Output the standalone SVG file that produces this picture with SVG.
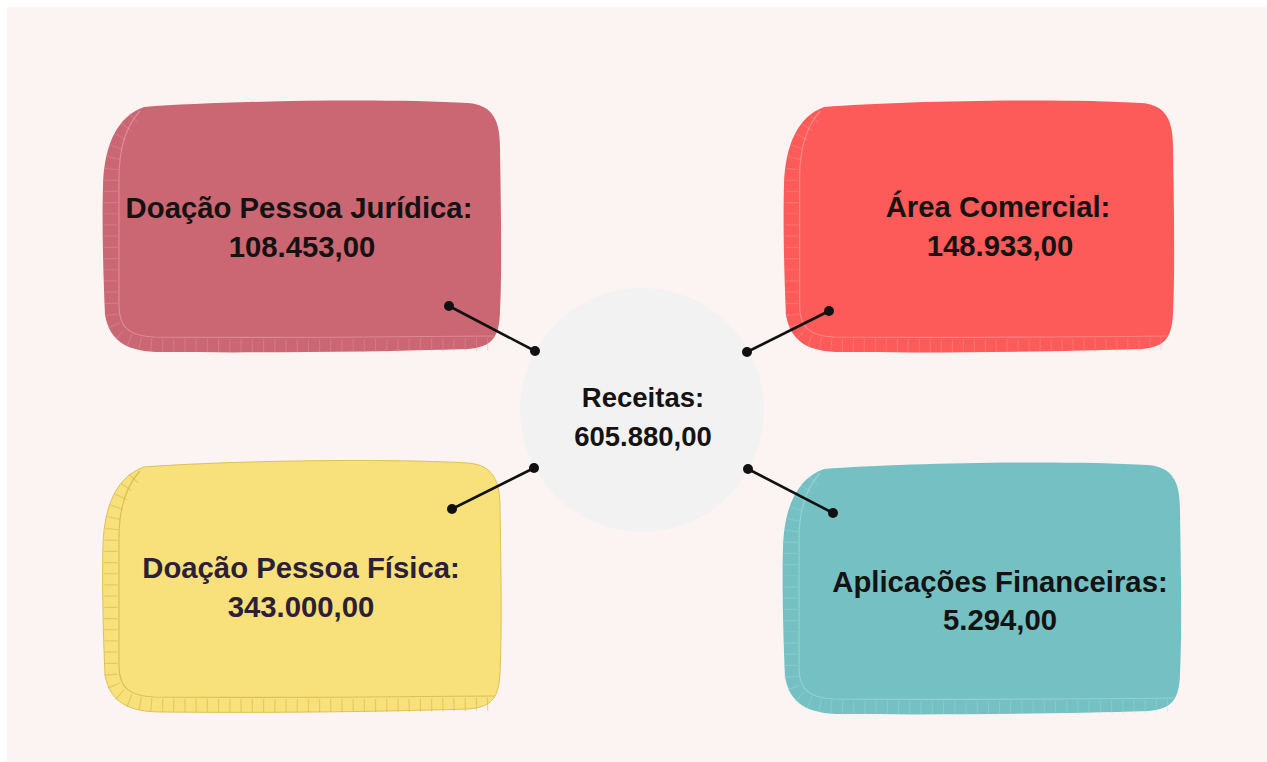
<svg xmlns="http://www.w3.org/2000/svg" width="1267" height="762" viewBox="0 0 1267 762">
  <defs>
    <path id="blob" d="M 42,7 C 120,1 280,-2 366,3 C 392,5 398,22 398,48 C 399,110 400,170 398,212 C 397,238 390,247 366,249 C 270,252 150,253 60,252 C 26,252 8,242 3,215 C 1,170 0,120 1,86 C 2,44 16,16 42,7 Z"/>
    <path id="face" d="M 38,11 C 24,26 17,48 17,78 L 17,206 C 17,228 28,236 52,237 C 170,238 290,237 392,236"/>
    <path id="band" d="M 32,18 C 15,36 9,60 9,82 L 9,212 C 10,236 25,244 56,245 C 170,246 290,246 388,244"/>
  </defs>
  <style>
    .lbl { font-family: "Liberation Sans", Arial, sans-serif; font-weight: bold; font-size: 29.3px; text-anchor: middle; fill: #151212; }
    .ctr { font-size: 27.5px; }
    .face { fill: none; stroke-width: 1.2; }
    .band { fill: none; stroke-width: 13; stroke-dasharray: 1.2 10; }
    .conn line { stroke: #111; stroke-width: 2.6; }
    .conn circle { fill: #111; }
  </style>
  <rect x="0" y="0" width="1267" height="762" fill="#ffffff"/>
  <rect x="7" y="7" width="1260" height="755" fill="#fcf4f3"/>

  <g id="node-pj" transform="translate(102,100)">
    <use href="#blob" fill="#cb6673"/>
    <use href="#band" class="band" stroke="#e49aa3" opacity="0.35"/>
    <use href="#face" class="face" stroke="#e8a2ab" opacity="0.6"/>
    <text class="lbl" x="197" y="118">Doação Pessoa Jurídica:</text>
    <text class="lbl" x="200" y="157">108.453,00</text>
  </g>

  <g id="node-ac" transform="translate(783,100) scale(0.98,1)">
    <use href="#blob" fill="#fd5a5a"/>
    <use href="#band" class="band" stroke="#ff9a94" opacity="0.35"/>
    <use href="#face" class="face" stroke="#ffa39e" opacity="0.6"/>
  </g>
  <g id="node-ac-text">
    <text class="lbl" x="998" y="217">Área Comercial:</text>
    <text class="lbl" x="1000" y="256">148.933,00</text>
  </g>

  <g id="node-pf" transform="translate(102,460)">
    <use href="#blob" fill="#f8e07b" stroke="#dcc25a" stroke-width="1"/>
    <use href="#band" class="band" stroke="#d4b84c" opacity="0.55"/>
    <use href="#face" class="face" stroke="#d4b84c" opacity="0.8"/>
    <text class="lbl" x="199" y="118" style="fill:#2b2038">Doação Pessoa Física:</text>
    <text class="lbl" x="199" y="157" style="fill:#2b2038">343.000,00</text>
  </g>

  <g id="node-af" transform="translate(782,462)">
    <use href="#blob" fill="#74c0c3"/>
    <use href="#band" class="band" stroke="#a6dadb" opacity="0.35"/>
    <use href="#face" class="face" stroke="#a9dcdd" opacity="0.6"/>
    <text class="lbl" x="218" y="130">Aplicações Financeiras:</text>
    <text class="lbl" x="218" y="168">5.294,00</text>
  </g>

  <g id="node-receitas">
    <circle cx="642" cy="410" r="122" fill="#f2f2f2"/>
    <text class="lbl ctr" x="643" y="407">Receitas:</text>
    <text class="lbl ctr" x="643" y="446">605.880,00</text>
  </g>

  <g id="connectors" class="conn">
    <line x1="449" y1="306" x2="535" y2="351"/>
    <circle cx="449" cy="306" r="5"/>
    <circle cx="535" cy="351" r="5"/>
    <line x1="747" y1="352" x2="829" y2="311"/>
    <circle cx="747" cy="352" r="5"/>
    <circle cx="829" cy="311" r="5"/>
    <line x1="534" y1="468" x2="452" y2="509"/>
    <circle cx="534" cy="468" r="5"/>
    <circle cx="452" cy="509" r="5"/>
    <line x1="748" y1="469" x2="833" y2="513"/>
    <circle cx="748" cy="469" r="5"/>
    <circle cx="833" cy="513" r="5"/>
  </g>
</svg>
